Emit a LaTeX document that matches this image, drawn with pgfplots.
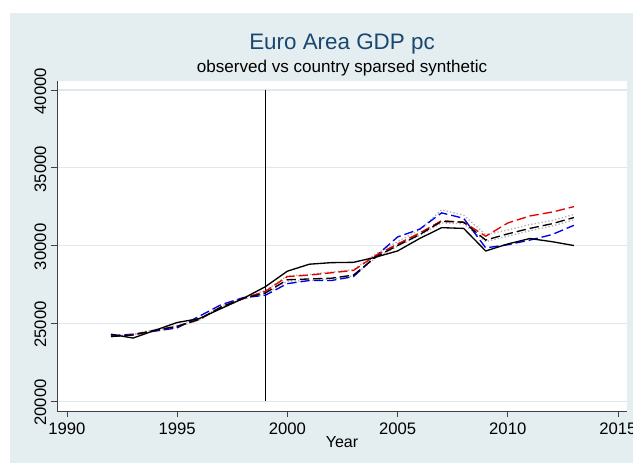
\documentclass[border=0pt]{standalone}
\usepackage{pgfplots}
\pgfplotsset{compat=1.18}
\usepackage{fontspec}
\setmainfont{Liberation Sans}
\definecolor{stbg}{RGB}{228,238,240}
\definecolor{stgrid}{RGB}{222,233,237}
\definecolor{stnavy}{RGB}{26,71,111}
\definecolor{stred}{RGB}{230,0,0}
\definecolor{stblue}{RGB}{0,0,235}

% one series per column: observed, black dashed, red, blue, two grey dotted
\pgfplotstableread{
year obs  blk   red   blue  grayu grayl
1992 24300 24150 24150 24200 24200 24150
1993 24050 24250 24250 24300 24300 24250
1994 24550 24550 24550 24500 24600 24500
1995 25050 24800 24800 24700 24850 24750
1996 25300 25250 25250 25450 25300 25200
1997 25950 26050 26050 26200 26100 26000
1998 26600 26600 26600 26650 26650 26550
1999 27350 26950 27050 26800 27100 26900
2000 28350 27800 28000 27550 28050 27700
2001 28800 27850 28100 27750 28150 27750
2002 28900 27900 28250 27750 28300 27850
2003 28920 28100 28400 28000 28450 28050
2004 29250 29250 29350 29300 29450 29200
2005 29650 30000 30100 30550 30250 29950
2006 30450 30700 30800 31050 31000 30650
2007 31150 31550 31600 32100 32300 31450
2008 31100 31500 31500 31750 31950 31400
2009 29650 30350 30600 29850 30700 30250
2010 30100 30750 31450 30050 31000 30600
2011 30450 31100 31900 30350 31350 30950
2012 30250 31400 32150 30700 31600 31250
2013 30000 31800 32500 31300 32000 31650
}\gdpdata

\begin{document}
\begin{tikzpicture}
  \useasboundingbox (-42.75pt,-40.5pt) rectangle (432pt,308.25pt);
  \path[fill=white] (-42.75pt,-40.5pt) rectangle (432pt,308.25pt);
  \path[fill=stbg] (-35.25pt,-39pt) rectangle (432pt,298.5pt);
  \begin{axis}[
      at={(0,0)}, anchor=south west,
      scale only axis, width=427.5pt, height=247.5pt,
      xmin=1989.55, xmax=2015.41, ymin=19360, ymax=40580,
      xtick={1990,1995,...,2015}, ytick={20000,25000,...,40000},
      scaled y ticks=false,
      axis lines*=left,
      axis line style={draw=black!75, line width=0.6pt},
      axis background/.style={fill=white},
      tick align=outside, major tick length=4.5pt,
      tick style={draw=black!75, line width=0.6pt},
      ymajorgrids, grid style={stgrid, line width=0.8pt},
      xticklabel style={font=\fontsize{12.5pt}{13pt}\selectfont, yshift=-1pt},
      yticklabel style={font=\fontsize{12.5pt}{13pt}\selectfont, rotate=90, anchor=south, xshift=-1pt},
      /pgf/number format/assume math mode=true,
      /pgf/number format/1000 sep={},
      xlabel={Year},
      xlabel style={font=\fontsize{12pt}{13pt}\selectfont, yshift=6pt},
      clip=false,
    ]
    \addplot[black, line width=0.6pt] coordinates {(1999,20000)(1999,40000)};
    \addplot[gray!60, line width=1pt, dash pattern=on 1pt off 1.6pt] table[x=year,y=grayl] {\gdpdata};
    \addplot[gray!60, line width=1pt, dash pattern=on 1pt off 1.6pt] table[x=year,y=grayu] {\gdpdata};
    \addplot[stblue, line width=1pt, dash pattern=on 7pt off 3pt] table[x=year,y=blue] {\gdpdata};
    \addplot[stred, line width=1pt, dash pattern=on 7pt off 3pt] table[x=year,y=red] {\gdpdata};
    \addplot[black, line width=1pt, dash pattern=on 7pt off 3pt] table[x=year,y=blk] {\gdpdata};
    \addplot[black, line width=1pt] table[x=year,y=obs] {\gdpdata};
    \node[font=\fontsize{16.8pt}{18pt}\selectfont, text=stnavy, anchor=base] at (213.75pt,271.5pt) {Euro Area GDP pc};
    \node[font=\fontsize{12.8pt}{14pt}\selectfont, anchor=base] at (213.75pt,254.25pt) {observed vs country sparsed synthetic};
  \end{axis}
\end{tikzpicture}
\end{document}
